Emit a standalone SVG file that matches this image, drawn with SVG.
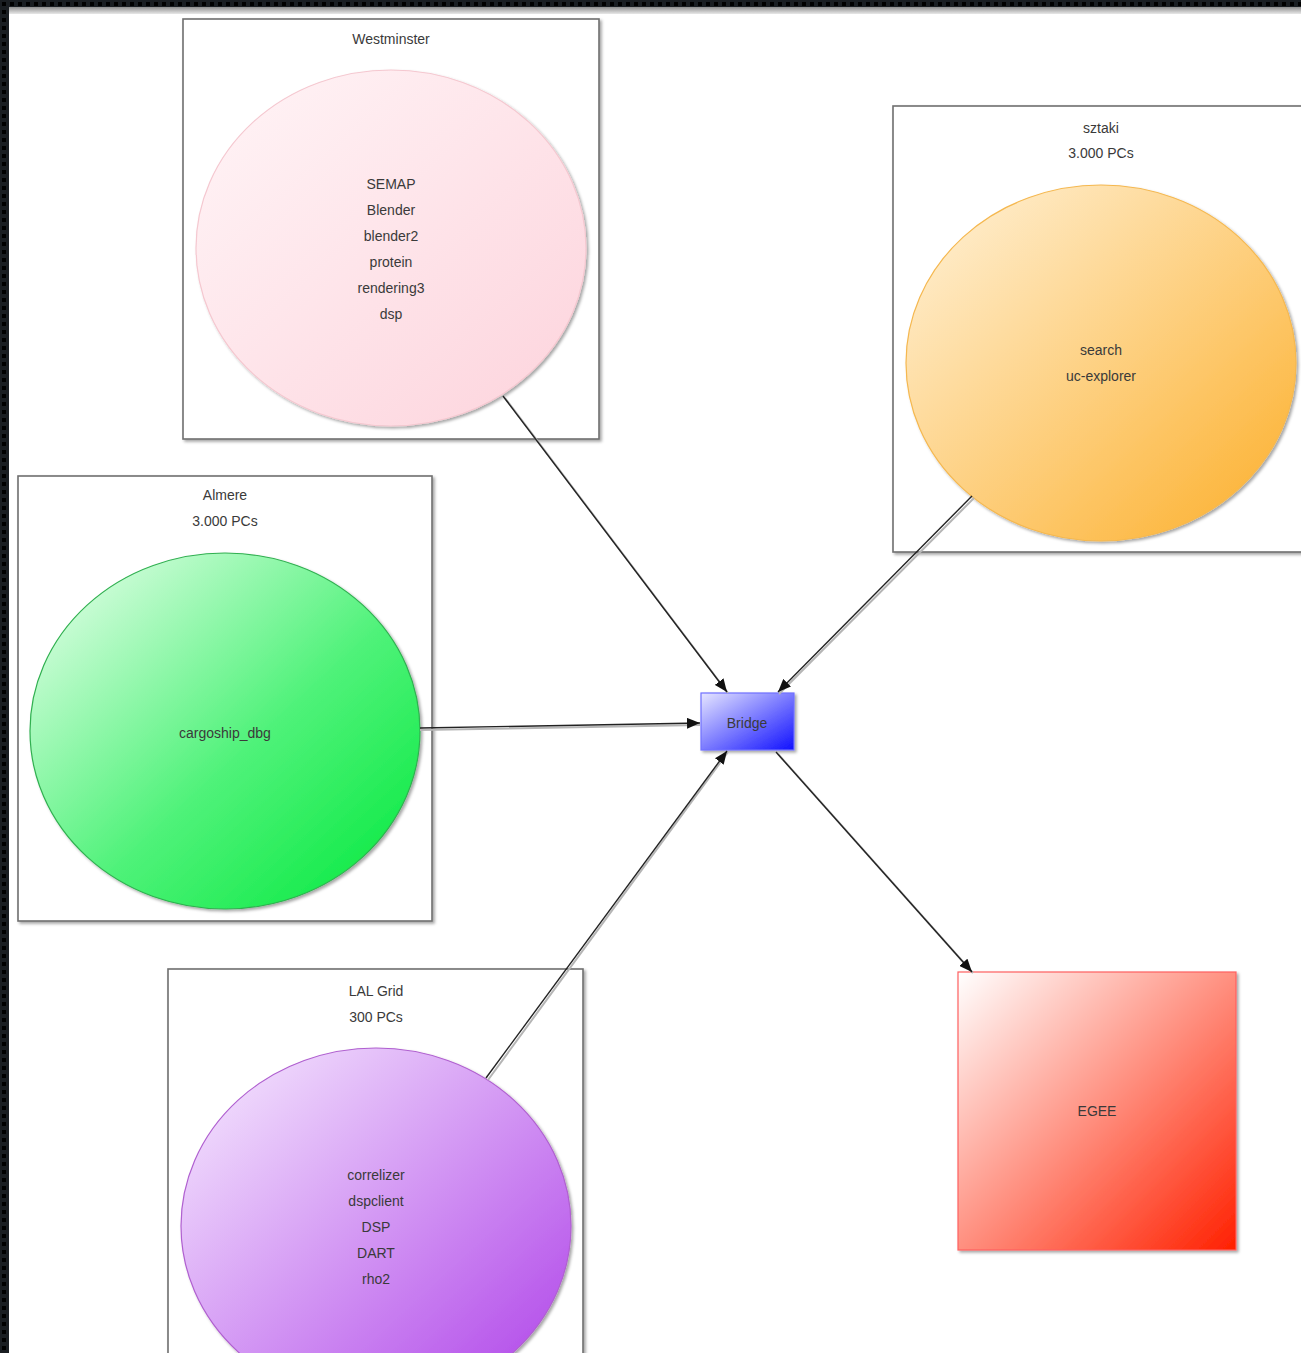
<svg xmlns="http://www.w3.org/2000/svg" width="1301" height="1353" viewBox="0 0 1301 1353">
<defs>
<linearGradient id="gPink" x1="0" y1="0" x2="1" y2="1"><stop offset="0" stop-color="#fff5f7"/><stop offset="1" stop-color="#fdd3dc"/></linearGradient>
<linearGradient id="gOrange" x1="0" y1="0" x2="1" y2="1"><stop offset="0" stop-color="#fff3dc"/><stop offset="1" stop-color="#fcae28"/></linearGradient>
<linearGradient id="gGreen" x1="0" y1="0" x2="1" y2="1"><stop offset="0" stop-color="#f0fff2"/><stop offset="0.55" stop-color="#50f27a"/><stop offset="1" stop-color="#00e83a"/></linearGradient>
<linearGradient id="gPurple" x1="0" y1="0" x2="1" y2="1"><stop offset="0" stop-color="#f8eeff"/><stop offset="1" stop-color="#ad3ee8"/></linearGradient>
<linearGradient id="gBlue" x1="0" y1="0" x2="1" y2="1"><stop offset="0" stop-color="#e6e6ff"/><stop offset="1" stop-color="#1010ff"/></linearGradient>
<linearGradient id="gRed" x1="0" y1="0" x2="1" y2="1"><stop offset="0" stop-color="#ffffff"/><stop offset="1" stop-color="#ff2000"/></linearGradient>
<linearGradient id="gTop" x1="0" y1="0" x2="0" y2="1"><stop offset="0" stop-color="#909090"/><stop offset="1" stop-color="#e8e8e8"/></linearGradient>
<pattern id="dots" width="8" height="8" patternUnits="userSpaceOnUse"><rect width="8" height="8" fill="#1a1e22"/><rect x="2" y="2" width="4" height="4" fill="#000"/></pattern>
<filter id="sh" x="-10%" y="-10%" width="130%" height="130%"><feDropShadow dx="2" dy="2" stdDeviation="1.5" flood-color="#000" flood-opacity="0.35"/></filter>
<marker id="arr" viewBox="0 0 12 10" refX="12" refY="5" markerWidth="13" markerHeight="11" orient="auto" markerUnits="userSpaceOnUse"><path d="M0,0 L12,5 L0,10 z" fill="#111"/></marker>
</defs>
<style>
.box{fill:#fff;stroke:#6f6f6f;stroke-width:1.6}
.t{font-family:"Liberation Sans",Arial,sans-serif;font-size:14px;fill:#3a3a3a;text-anchor:middle}
.ln{stroke:#222;stroke-width:1.4;fill:none}
.lsh{stroke:#b5b5b5;stroke-width:2;fill:none}
</style>
<rect width="1301" height="1353" fill="#fff"/>
<rect x="0" y="0" width="1301" height="7" fill="url(#dots)"/>
<rect x="0" y="0" width="9" height="1353" fill="url(#dots)"/>
<rect x="9" y="7" width="1292" height="7" fill="url(#gTop)"/>

<g id="westminster">
<rect class="box" x="183" y="19" width="416" height="420" filter="url(#sh)"/>
<text class="t" x="391" y="44">Westminster</text>
<ellipse cx="391" cy="248" rx="195" ry="178" fill="url(#gPink)" stroke="#f5c8d0" stroke-width="1.2" filter="url(#sh)"/>
<text class="t" x="391" y="189">SEMAP</text>
<text class="t" x="391" y="215">Blender</text>
<text class="t" x="391" y="241">blender2</text>
<text class="t" x="391" y="267">protein</text>
<text class="t" x="391" y="293">rendering3</text>
<text class="t" x="391" y="319">dsp</text>
</g>

<g id="sztaki">
<rect class="box" x="893" y="106" width="420" height="446" filter="url(#sh)"/>
<text class="t" x="1101" y="133">sztaki</text>
<text class="t" x="1101" y="158">3.000 PCs</text>
<ellipse cx="1101" cy="363" rx="195" ry="178" fill="url(#gOrange)" stroke="#f5b850" stroke-width="1.2" filter="url(#sh)"/>
<text class="t" x="1101" y="355">search</text>
<text class="t" x="1101" y="381">uc-explorer</text>
</g>

<g id="almere">
<rect class="box" x="18" y="476" width="414" height="445" filter="url(#sh)"/>
<text class="t" x="225" y="500">Almere</text>
<text class="t" x="225" y="526">3.000 PCs</text>
<ellipse cx="225" cy="731" rx="195" ry="178" fill="url(#gGreen)" stroke="#30b050" stroke-width="1.2" filter="url(#sh)"/>
<text class="t" x="225" y="738">cargoship_dbg</text>
</g>

<g id="lalgrid">
<rect class="box" x="168" y="969" width="415" height="420" filter="url(#sh)"/>
<text class="t" x="376" y="996">LAL Grid</text>
<text class="t" x="376" y="1022">300 PCs</text>
<ellipse cx="376" cy="1226" rx="195" ry="178" fill="url(#gPurple)" stroke="#b060d0" stroke-width="1.2" filter="url(#sh)"/>
<text class="t" x="376" y="1180">correlizer</text>
<text class="t" x="376" y="1206">dspclient</text>
<text class="t" x="376" y="1232">DSP</text>
<text class="t" x="376" y="1258">DART</text>
<text class="t" x="376" y="1284">rho2</text>
</g>

<g id="bridge">
<rect x="701" y="693" width="93" height="57" fill="url(#gBlue)" stroke="#7070ff" stroke-width="1.2" filter="url(#sh)"/>
<text class="t" x="747" y="728">Bridge</text>
</g>

<g id="egee">
<rect x="958" y="972" width="278" height="278" fill="url(#gRed)" stroke="#ff6060" stroke-width="1.2" filter="url(#sh)"/>
<text class="t" x="1097" y="1116">EGEE</text>
</g>

<g id="connectors">
<line class="lsh" x1="505" y1="398" x2="728" y2="693"/>
<line class="lsh" x1="974" y1="498" x2="779" y2="694"/>
<line class="lsh" x1="420" y1="730" x2="700" y2="725"/>
<line class="lsh" x1="488" y1="1080" x2="728" y2="752"/>
<line class="lsh" x1="778" y1="754" x2="973" y2="973"/>
<line class="ln" x1="503" y1="396" x2="727" y2="692" marker-end="url(#arr)"/>
<line class="ln" x1="972" y1="496" x2="778" y2="692" marker-end="url(#arr)"/>
<line class="ln" x1="420" y1="728" x2="700" y2="723" marker-end="url(#arr)"/>
<line class="ln" x1="486" y1="1078" x2="727" y2="751" marker-end="url(#arr)"/>
<line class="ln" x1="776" y1="752" x2="972" y2="972" marker-end="url(#arr)"/>
</g>
</svg>
